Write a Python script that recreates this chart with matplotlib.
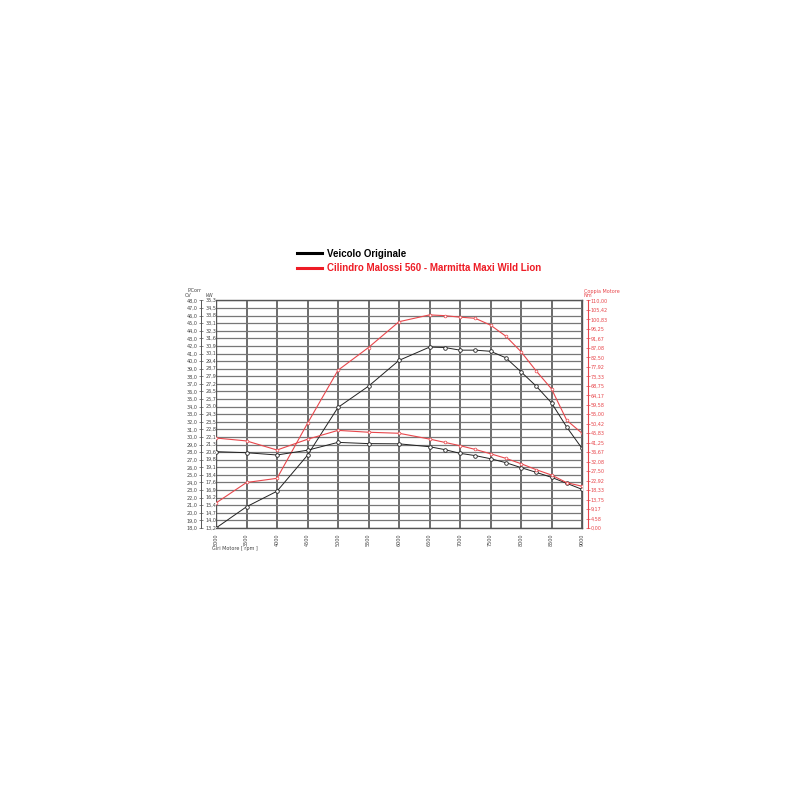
import numpy as np
import matplotlib
matplotlib.use("Agg")
from matplotlib import pyplot as plt
from matplotlib.lines import Line2D
import matplotlib.transforms as mtransforms

# rpm sampling points
rpm = [3000, 3500, 4000, 4500, 5000, 5500, 6000, 6500, 6750, 7000,
       7250, 7500, 7750, 8000, 8250, 8500, 8750, 9000]

# power (CV), left axis
power_orig = [18.0, 20.8, 22.85, 27.6, 33.9, 36.7, 40.1, 41.85, 41.8, 41.45,
              41.45, 41.3, 40.45, 38.6, 36.7, 34.5, 31.3, 28.5]
power_mal = [21.3, 24.0, 24.55, 31.8, 38.8, 41.8, 45.2, 46.1, 46.0, 45.8,
             45.65, 44.75, 43.3, 41.25, 38.7, 36.35, 32.2, 30.5]

# torque (Nm), right axis
torque_orig = [36.9, 36.4, 35.3, 37.6, 41.4, 40.8, 40.7, 39.3, 37.9, 36.1,
               35.0, 33.5, 31.6, 29.2, 26.9, 24.5, 21.6, 18.7]
torque_mal = [43.5, 42.1, 37.7, 42.9, 47.2, 46.3, 45.8, 43.0, 41.4, 39.8,
              38.0, 35.9, 33.7, 31.1, 28.2, 25.6, 21.9, 20.2]

rpm_ticks = list(range(3000, 9001, 500))
cv_ticks = list(range(18, 49))
kw_labels = ["13,2", "14,0", "14,7", "15,4", "16,2", "16,9", "17,6", "18,4",
             "19,1", "19,8", "20,6", "21,3", "22,1", "22,8", "23,5", "24,3",
             "25,0", "25,7", "26,5", "27,2", "27,9", "28,7", "29,4", "30,1",
             "30,9", "31,6", "32,3", "33,1", "33,8", "34,5", "35,3"]
nm_ticks = [110 * i / 24 for i in range(25)]

BLACK = "#222222"
RED = "#e8474c"
FS = 3.5

fig = plt.figure(figsize=(8, 8), dpi=100)
ax = fig.add_axes([0.27, 0.34, 0.4575, 0.2844])

ax.set_xlim(3000, 9000)
ax.set_ylim(18, 48)
ax.set_xticks(rpm_ticks)
ax.set_xticklabels([str(r) for r in rpm_ticks], rotation=90)
ax.set_yticks(cv_ticks)
ax.set_yticklabels([f"{v},0" for v in cv_ticks])

ax.grid(axis="y", color="#777", linewidth=0.9)
ax.grid(axis="x", color="#444", linewidth=1.1)
ax.set_axisbelow(True)
for side in ["top", "bottom", "right"]:
    ax.spines[side].set_color("#555")
    ax.spines[side].set_linewidth(1.0)
ax.spines["left"].set_position(("outward", 11))
ax.spines["left"].set_color("#555")
ax.spines["left"].set_linewidth(0.7)
ax.spines["left"].set_bounds(18, 48)
ax.tick_params(axis="y", direction="inout", length=3, width=0.5, pad=1,
               color="#555", labelcolor="#444", labelsize=FS)
ax.tick_params(axis="x", length=0, pad=4, labelcolor="#444", labelsize=FS)
# frame line at the left edge of the plot area
ax.axvline(3000, color="#555", linewidth=1.0)

# kW labels on the right side of the left axis line
kw_trans = mtransforms.blended_transform_factory(ax.transAxes, ax.transData)
for v, lab in zip(cv_ticks, kw_labels):
    ax.text(-0.028, v, lab, transform=kw_trans, fontsize=FS, color="#444",
            ha="left", va="center")

ax.text(-0.058, 49.3, "P.Corr", transform=kw_trans, fontsize=FS, color="#444",
        ha="center", va="center")
ax.text(-0.075, 48.6, "CV", transform=kw_trans, fontsize=FS, color="#444",
        ha="center", va="center")
ax.text(-0.028, 48.6, "kW", transform=kw_trans, fontsize=FS, color="#444",
        ha="left", va="center")

ax.plot(rpm, power_orig, color=BLACK, linewidth=0.7, marker="o", markersize=2.6,
        markerfacecolor="white", markeredgewidth=0.6)
ax.plot(rpm, power_mal, color=RED, linewidth=0.8, marker="o", markersize=2.0,
        markerfacecolor="white", markeredgewidth=0.5)

ax2 = ax.twinx()
ax2.set_ylim(0, 110)
ax2.set_yticks(nm_ticks)
ax2.set_yticklabels([f"{v:.2f}".replace(".", ",") for v in nm_ticks])
ax2.spines["right"].set_position(("outward", 4))
ax2.spines["right"].set_color(RED)
ax2.spines["right"].set_linewidth(0.8)
for side in ["top", "bottom", "left"]:
    ax2.spines[side].set_visible(False)
ax2.tick_params(axis="y", direction="inout", length=2.5, width=0.5, pad=1,
                color=RED, labelcolor=RED, labelsize=FS)

ax2.plot(rpm, torque_orig, color=BLACK, linewidth=0.7, marker="o", markersize=2.6,
         markerfacecolor="white", markeredgewidth=0.6)
ax2.plot(rpm, torque_mal, color=RED, linewidth=0.8, marker="o", markersize=2.0,
         markerfacecolor="white", markeredgewidth=0.5)

rt = mtransforms.blended_transform_factory(ax2.transAxes, ax2.transData)
ax2.text(1.005, 114.5, "Coppia Motore", transform=rt, fontsize=FS, color=RED,
         ha="left", va="center")
ax2.text(1.005, 112.2, "Nm", transform=rt, fontsize=FS, color=RED,
         ha="left", va="center")

ax.text(-0.01, -0.09, "Giri Motore [ rpm ]", transform=ax.transAxes,
        fontsize=FS, color="#444", ha="left", va="center")

handles = [Line2D([0], [0], color="black", linewidth=2.2),
           Line2D([0], [0], color="#ee1c25", linewidth=2.2)]
leg = fig.legend(handles, ["Veicolo Originale",
                           "Cilindro Malossi 560 - Marmitta Maxi Wild Lion"],
                 loc="upper left", bbox_to_anchor=(0.36, 0.70), frameon=False,
                 handlelength=2.6, handletextpad=0.5, labelspacing=0.45,
                 prop={"family": "Liberation Sans", "weight": "bold", "size": 7})
leg.get_texts()[0].set_color("black")
leg.get_texts()[1].set_color("#ee1c25")

fig.savefig("out.png", dpi=100, facecolor="white")
